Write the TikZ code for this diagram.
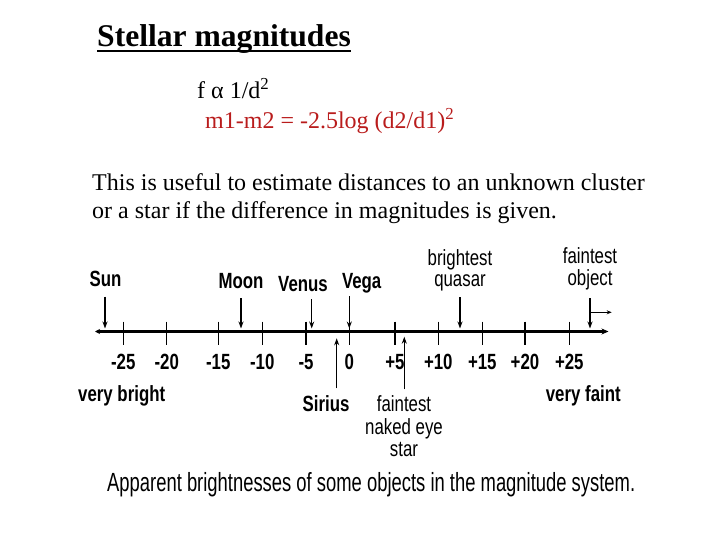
\documentclass[tikz,border=0pt]{standalone}
\usepackage{fontspec}
\setmainfont{Liberation Serif}
\newfontfamily\tagfont[FakeStretch=0.765]{Liberation Sans}
\newfontfamily\capfont[FakeStretch=0.7]{Liberation Sans}
\usetikzlibrary{arrows.meta}
\definecolor{eqred}{RGB}{185,28,28}

\begin{document}
\begin{tikzpicture}[x=1pt, y=-1pt,
  txt/.style={anchor=base west, inner sep=0pt, font=\fontsize{24}{28}\selectfont},
  obj/.style={anchor=base, inner sep=0pt,
              font=\tagfont\bfseries\fontsize{22}{24}\selectfont},
  note/.style={anchor=base, inner sep=0pt,
               font=\tagfont\fontsize{22}{24}\selectfont},
  tick/.style={line width=1.3pt},
  ptr/.style={line width=1.3pt, -{Stealth[length=7pt, width=5pt]}}
]
\useasboundingbox (0,0) rectangle (720,540);

% heading and formulae
\node[txt, font=\bfseries\fontsize{31.6}{36}\selectfont] (title) at (97,46.7)
  {Stellar magnitudes};
\draw[line width=1.8pt] ([yshift=-4.5pt]title.base west)
  -- ([yshift=-4.5pt]title.base east);
\node[txt] (prop) at (197,98.3) {f α 1/d\textsuperscript{2}};
\node[txt, text=eqred] (pogson) at (205,128.3)
  {m1-m2 = -2.5log (d2/d1)\textsuperscript{2}};
\node[txt] (use1) at (92,190.5)
  {This is useful to estimate distances to an unknown cluster};
\node[txt] (use2) at (92,218.8)
  {or a star if the difference in magnitudes is given.};

% magnitude axis
\draw[line width=3pt, {Stealth[length=5pt, width=5pt]}-{Stealth[length=7pt, width=6pt]}]
  (95,331.5) coordinate (lo) -- (608.5,331.5) coordinate (hi);
\foreach \x/\m [count=\i] in {123.3/-25, 166.7/-20, 218.3/-15, 262.3/-10,
    306/-5, 349.3/0, 395/+5, 438.3/+10, 482.3/+15, 525/+20, 569.3/+25} {
  \draw[tick] (\x,321.7) -- (\x,345);
  \node[obj] (mag\i) at (\x,369.3) {\m};
}

% objects above the axis
\node[obj] (sun) at (105.5,286.7) {Sun};
\node[obj] (moon) at (241,288.3) {Moon};
\node[obj] (venus) at (303,291) {Venus};
\node[obj] (vega) at (361.7,288.3) {Vega};
\node[note] (quasartop) at (460,265) {brightest};
\node[note] (quasar) at (460,286.7) {quasar};
\node[note] (faintobjtop) at (590,263.3) {faintest};
\node[note] (faintobj) at (590,285) {object};
\foreach \name/\x/\y in {sun/105/296.7, moon/241/298.3, venus/311.7/299.3,
    vega/349.3/296, quasar/460/297.3, faintobj/590/298.3} {
  \coordinate (\name top) at (\x,\y);
  \coordinate (\name pt) at (\x,328.5);
  \draw[ptr] (\name top) -- (\name pt);
}
\coordinate (beyond) at (590,312.3);
\coordinate (beyondend) at (611.7,312.3);
\draw[line width=1.2pt, -{Stealth[length=5pt, width=4pt]}] (beyond) -- (beyondend);

% objects below the axis
\node[obj] (bright) at (121.7,401.7) {very bright};
\node[obj] (faint) at (583.3,401.7) {very faint};
\node[obj] (sirius) at (326,411.7) {Sirius};
\node[note] (eyetop) at (404,411.7) {faintest};
\node[note] (eyemid) at (404,434.3) {naked eye};
\node[note] (eye) at (404,456.7) {star};
\coordinate (siriusfoot) at (336.7,388.3);
\coordinate (siriuspt) at (336.7,338.3);
\coordinate (eyefoot) at (404.3,389.3);
\coordinate (eyept) at (404.3,336.7);
\draw[ptr] (siriusfoot) -- (siriuspt);
\draw[ptr] (eyefoot) -- (eyept);

\node[anchor=base west, inner sep=0pt, font=\capfont\fontsize{26.3}{28}\selectfont]
  (caption) at (107,491.7)
  {Apparent brightnesses of some objects in the magnitude system.};
\end{tikzpicture}
\end{document}
